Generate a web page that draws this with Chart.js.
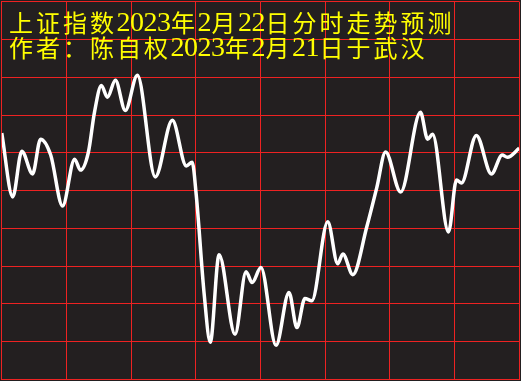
<!DOCTYPE html>
<html>
<head>
<meta charset="utf-8">
<script src="https://cdn.jsdelivr.net/npm/chart.js@4"></script>
<style>
  html, body { margin: 0; padding: 0; background: #231f20; }
  canvas { display: block; }
</style>
</head>
<body>
<canvas id="trendChart" width="521" height="381"></canvas>
<script>
// Title text, drawn over the grid
const titleLines = [
  '上证指数2023年2月22日分时走势预测',
  '作者：陈自权2023年2月21日于武汉'
]

// Forecast curve: minute of the trading day (0-240) and level in grid rows (0-10)
const minutes = [0, 5.1, 9.3, 14.3, 18.0, 22.7, 28.2, 33.8, 36.5, 40.2, 43.0, 46.2, 49.0, 52.7, 57.3, 62.9,
  71.2, 79.1, 85.6, 88.3, 90.2, 93.9, 96.7, 100.8, 108.2, 113.3, 116.1, 120.2, 127.2, 133.2, 136.9, 140.6,
  143.8, 151.2, 155.8, 158.2, 162.8, 169.3, 173.9, 178.0, 185.0, 194.2, 197.5, 199.8, 207.2, 210.9, 213.2,
  220.1, 227.1, 232.1, 234.5, 240]
const levels = [6.52, 4.83, 6.04, 5.44, 6.36, 5.94, 4.59, 5.83, 5.54, 6.02, 7.07, 7.78, 7.47, 7.92, 7.12, 8.05,
  5.36, 6.86, 5.65, 5.75, 4.88, 2.24, 0.98, 3.30, 1.19, 2.85, 2.56, 2.96, 0.90, 2.30, 1.37, 2.14,
  2.08, 4.17, 3.06, 3.32, 2.77, 4.04, 5.07, 6.02, 4.96, 7.07, 6.36, 6.49, 3.90, 5.28, 5.20,
  6.46, 5.44, 5.94, 5.88, 6.12]

const GRID_RED = '#ee2222'

// Background fill behind the chart
const background = {
  id: 'background',
  beforeDraw (chart) {
    const ctx = chart.ctx
    ctx.save()
    ctx.fillStyle = '#231f20'
    ctx.fillRect(0, 0, chart.width, chart.height)
    ctx.restore()
  }
}

// Yellow heading written on top of the grid, fixed-pitch like the original
const heading = {
  id: 'heading',
  afterDraw (chart) {
    const ctx = chart.ctx
    ctx.save()
    ctx.fillStyle = '#ffff00'
    ctx.textAlign = 'center'
    ctx.textBaseline = 'middle'
    titleLines.forEach(function (line, i) {
      let x = 9
      const y = 23 + i * 25
      for (const ch of line) {
        const wide = ch.charCodeAt(0) > 255
        if (wide) {
          ctx.font = '24px "Noto Sans CJK SC"'
          ctx.fillText(ch, x + 12, y)
          x += 27
        } else {
          ctx.font = '28px "Liberation Serif"'
          ctx.fillText(ch, x + 6.5, y + 1)
          x += 13.5
        }
      }
    })
    ctx.restore()
  }
}

const points = minutes.map(function (m, i) {
  return { x: m, y: levels[i] }
})

const ctx = document.getElementById('trendChart').getContext('2d')
const trendChart = new Chart(ctx, {
  type: 'line',
  data: {
    datasets: [{
      data: points,
      borderColor: '#ffffff',
      borderWidth: 3.5,
      pointRadius: 0,
      cubicInterpolationMode: 'monotone',
      fill: false
    }]
  },
  options: {
    responsive: false,
    animation: false,
    devicePixelRatio: 1,
    layout: { padding: { left: 0, top: 1, right: 1, bottom: 0 } },
    plugins: {
      legend: { display: false },
      tooltip: { enabled: false }
    },
    scales: {
      x: {
        type: 'linear',
        min: 0,
        max: 240,
        ticks: { display: false, stepSize: 30 },
        grid: { color: GRID_RED, lineWidth: 1, drawTicks: false },
        border: { color: GRID_RED, width: 1 }
      },
      y: {
        min: 0,
        max: 10,
        ticks: { display: false, stepSize: 1 },
        grid: { color: GRID_RED, lineWidth: 1, drawTicks: false },
        border: { color: GRID_RED, width: 1 }
      }
    }
  },
  plugins: [background, heading]
})
trendChart.update()
</script>
</body>
</html>
